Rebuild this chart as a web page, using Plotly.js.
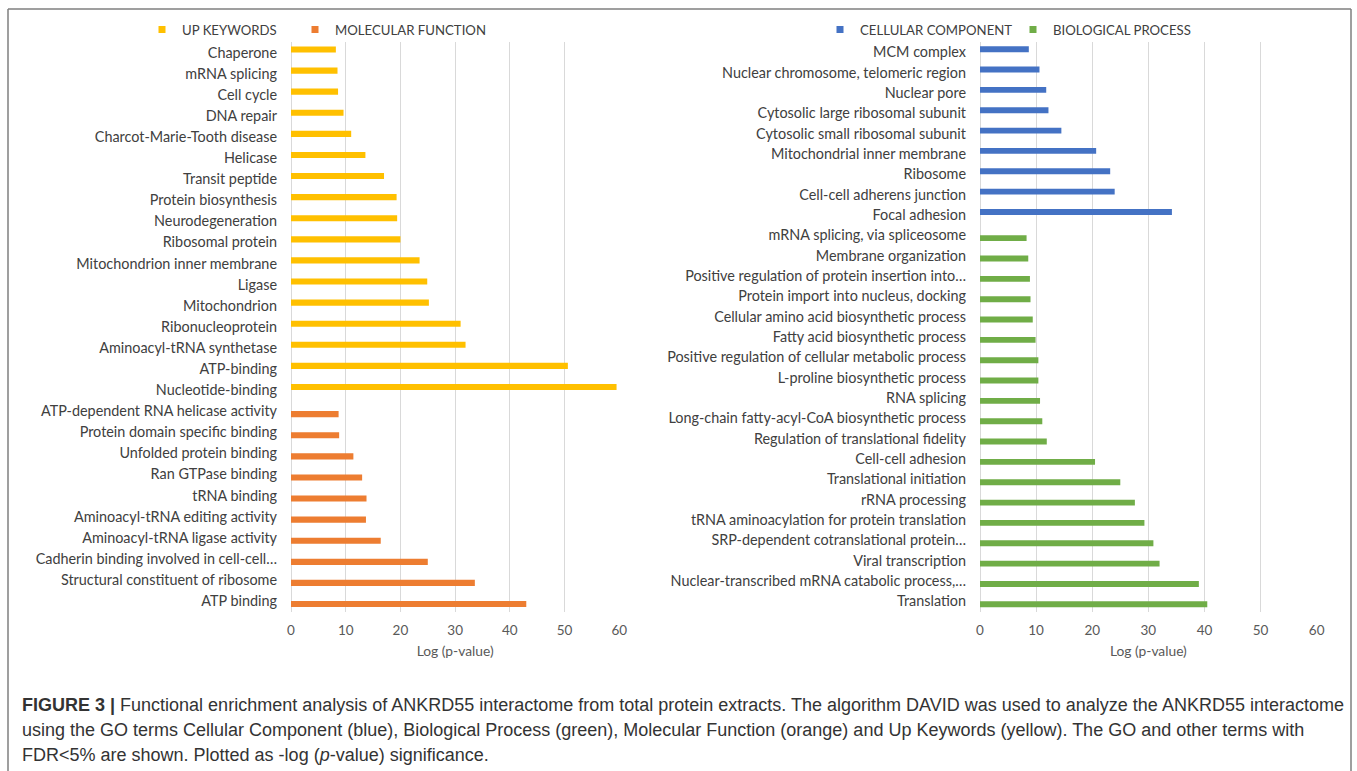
<!DOCTYPE html>
<html>
<head>
<meta charset="utf-8">
<script src="https://cdn.plot.ly/plotly-3.0.1.min.js"></script>
<style>html,body{margin:0;padding:0;background:#fff;}#chart{width:1357px;height:771px;}</style>
</head>
<body>
<div id="chart"></div>
<script>
// ---- data (top to bottom as in the figure) ----
const upCats = ["Chaperone","mRNA splicing","Cell cycle","DNA repair","Charcot-Marie-Tooth disease","Helicase","Transit peptide","Protein biosynthesis","Neurodegeneration","Ribosomal protein","Mitochondrion inner membrane","Ligase","Mitochondrion","Ribonucleoprotein","Aminoacyl-tRNA synthetase","ATP-binding","Nucleotide-binding"];
const upVals = [8.2,8.5,8.6,9.6,11.0,13.6,17.0,19.3,19.4,20.0,23.5,24.9,25.2,31.0,31.9,50.6,59.5];

const mfCats = ["ATP-dependent RNA helicase activity","Protein domain specific binding","Unfolded protein binding","Ran GTPase binding","tRNA binding","Aminoacyl-tRNA editing activity","Aminoacyl-tRNA ligase activity","Cadherin binding involved in cell-cell\u2026","Structural constituent of ribosome","ATP binding"];
const mfVals = [8.7,8.8,11.4,13.0,13.8,13.7,16.4,25.0,33.6,43.0];

const ccCats = ["MCM complex","Nuclear chromosome, telomeric region","Nuclear pore","Cytosolic large ribosomal subunit","Cytosolic small ribosomal subunit","Mitochondrial inner membrane","Ribosome","Cell-cell adherens junction","Focal adhesion"];
const ccVals = [8.7,10.6,11.8,12.2,14.5,20.7,23.2,24.0,34.2];

const bpCats = ["mRNA splicing, via spliceosome","Membrane organization","Positive regulation of protein insertion into\u2026","Protein import into nucleus, docking","Cellular amino acid biosynthetic process","Fatty acid biosynthetic process","Positive regulation of cellular metabolic process","L-proline biosynthetic process","RNA splicing","Long-chain fatty-acyl-CoA biosynthetic process","Regulation of translational fidelity","Cell-cell adhesion","Translational initiation","rRNA processing","tRNA aminoacylation for protein translation","SRP-dependent cotranslational protein\u2026","Viral transcription","Nuclear-transcribed mRNA catabolic process,\u2026","Translation"];
const bpVals = [8.3,8.6,8.9,9.0,9.4,9.9,10.4,10.4,10.7,11.1,11.9,20.5,25.0,27.6,29.3,30.9,32.0,39.0,40.5];

const xTicks = [0,10,20,30,40,50,60];
const legendNames = ["UP KEYWORDS","MOLECULAR FUNCTION","CELLULAR COMPONENT","BIOLOGICAL PROCESS"];
const xTitle = "Log (p-value)";
const captionLines = [
  "<b>FIGURE 3 |</b> Functional enrichment analysis of ANKRD55 interactome from total protein extracts. The algorithm DAVID was used to analyze the ANKRD55 interactome",
  "using the GO terms Cellular Component (blue), Biological Process (green), Molecular Function (orange) and Up Keywords (yellow). The GO and other terms with",
  "FDR&lt;5% are shown. Plotted as -log (<i>p</i>-value) significance."
];

// ---- styling ----
const COL = {up:"#FFC000", mf:"#ED7D31", cc:"#4472C4", bp:"#70AD47"};
const W = 1357, H = 771;
const BW = 0.29;
const FONT = "Lato, 'Open Sans', sans-serif";

function bar(cats, vals, color, xa, ya, offset){
  return {type:"bar", orientation:"h", x:vals, y:cats, xaxis:xa, yaxis:ya,
    marker:{color:color, line:{width:0}}, width:BW, offset:offset,
    showlegend:false, hoverinfo:"x+y"};
}
function legendDummy(name, color, xa, ya, leg){
  return {type:"scatter", mode:"markers", x:[null], y:[null], xaxis:xa, yaxis:ya,
    name:name, legend:leg, marker:{symbol:"square", size:7, color:color}, hoverinfo:"skip"};
}

const traces = [
  bar(upCats, upVals, COL.up, "x", "y", -BW),
  bar(mfCats, mfVals, COL.mf, "x", "y", 0),
  bar(ccCats, ccVals, COL.cc, "x2", "y2", -BW),
  bar(bpCats, bpVals, COL.bp, "x2", "y2", 0),
  legendDummy(legendNames[0], COL.up, "x", "y", "legend"),
  legendDummy(legendNames[1], COL.mf, "x", "y", "legend2"),
  legendDummy(legendNames[2], COL.cc, "x2", "y2", "legend3"),
  legendDummy(legendNames[3], COL.bp, "x2", "y2", "legend4")
];

const yTop = 1 - 42/H, yBot = 1 - 611.5/H;
function xAxis(domain, anchor){
  return {domain:domain, anchor:anchor, range:[0,60], tickvals:xTicks, ticks:"",
    showgrid:true, gridcolor:"#d9d9d9", gridwidth:1.2, zeroline:true, zerolinecolor:"#d9d9d9", zerolinewidth:1.2,
    showline:false, ticklabelstandoff:9, tickfont:{family:FONT, size:13.5, color:"#595959"},
    title:{text:xTitle, font:{family:FONT, size:13.8, color:"#595959"}, standoff:9},
    fixedrange:true};
}
function yAxis(cats, anchor){
  return {domain:[yBot, yTop], anchor:anchor, type:"category", categoryorder:"array", categoryarray:cats,
    range:[cats.length-0.5, -0.5], ticks:"", showgrid:false, zeroline:false, showline:false,
    ticklabelstandoff:13, tickfont:{family:FONT, size:14.4, color:"#404040"}, automargin:false, fixedrange:true};
}

const allLeft = upCats.concat(mfCats);
const allRight = ccCats.concat(bpCats);

const annotations = captionLines.map((t,i)=>({
  text:t, xref:"paper", yref:"paper", x:20/W, y:1-(705+25*i)/H, xanchor:"left", yanchor:"middle",
  showarrow:false, align:"left", font:{family:"'Liberation Sans', Arial, sans-serif", size:18, color:"#333333"}
}));

const shapes = [
  {type:"line", xref:"paper", yref:"paper", x0:8/W, x1:8/W, y0:0, y1:1-9/H, line:{color:"#7f7f7f", width:1.5}},
  {type:"line", xref:"paper", yref:"paper", x0:1351/W, x1:1351/W, y0:0, y1:1-9/H, line:{color:"#7f7f7f", width:1.5}},
  {type:"line", xref:"paper", yref:"paper", x0:8/W, x1:1351/W, y0:1-9/H, y1:1-9/H, line:{color:"#7f7f7f", width:1.5}}
];

function leg(textLeftPx){
  return {orientation:"h", xanchor:"left", yanchor:"middle", x:(textLeftPx-40)/W, y:1-30/H,
    bgcolor:"rgba(0,0,0,0)", borderwidth:0,
    font:{family:FONT, size:13.2, color:"#404040"}, itemclick:false, itemdoubleclick:false};
}

const layout = {
  width:W, height:H, margin:{l:0,r:0,t:0,b:0}, paper_bgcolor:"#ffffff", plot_bgcolor:"#ffffff",
  barmode:"overlay", font:{family:FONT},
  xaxis: xAxis([291/W, 619.3/W], "y"),
  yaxis: yAxis(allLeft, "x"),
  xaxis2: xAxis([980/W, 1316.7/W], "y2"),
  yaxis2: yAxis(allRight, "x2"),
  legend: leg(182),
  legend2: leg(335),
  legend3: leg(860),
  legend4: leg(1053),
  annotations: annotations,
  shapes: shapes
};

Plotly.newPlot("chart", traces, layout, {displayModeBar:false, staticPlot:false});
</script>
</body>
</html>
